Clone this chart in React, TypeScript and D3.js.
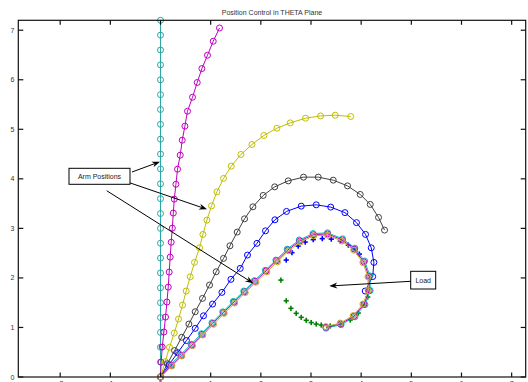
import * as d3 from 'd3';
import React from 'react';

type Pt = [number, number];

// arm snapshots in the theta plane (x, y), 25 nodes each
const armCyan: Pt[] = [
  [0, 0], [0, 0.3], [0, 0.6], [0, 0.9], [0, 1.2], [0, 1.5], [0, 1.8], [0, 2.1], [0, 2.4],
  [0, 2.7], [0, 3.0], [0, 3.3], [0, 3.6], [0, 3.9], [0, 4.2], [0, 4.5], [0, 4.8], [0, 5.1],
  [0, 5.4], [0, 5.7], [0, 6.0], [0, 6.3], [0, 6.6], [0, 6.9], [0, 7.2],
];
const armMagenta: Pt[] = [
  [0, 0], [0.014, 0.3], [0.034, 0.605], [0.068, 0.908], [0.1, 1.21], [0.128, 1.513],
  [0.154, 1.815], [0.173, 2.118], [0.193, 2.42], [0.213, 2.72], [0.235, 3.005], [0.255, 3.31],
  [0.275, 3.59], [0.307, 3.89], [0.339, 4.195], [0.393, 4.478], [0.433, 4.78], [0.486, 5.063],
  [0.538, 5.365], [0.638, 5.647], [0.732, 5.944], [0.825, 6.226], [0.937, 6.495],
  [1.051, 6.777], [1.176, 7.045],
];
const armYellow: Pt[] = [
  [0, 0], [0.094, 0.309], [0.179, 0.599], [0.273, 0.887], [0.359, 1.17], [0.439, 1.452],
  [0.512, 1.735], [0.592, 2.023], [0.678, 2.313], [0.778, 2.608], [0.845, 2.878],
  [0.925, 3.167], [1.017, 3.455], [1.124, 3.737], [1.256, 4.008], [1.41, 4.256],
  [1.603, 4.492], [1.822, 4.693], [2.061, 4.875], [2.32, 5.022], [2.586, 5.129],
  [2.891, 5.224], [3.19, 5.27], [3.483, 5.284], [3.792, 5.258],
];
const armGray: Pt[] = [
  [0, 0], [0.138, 0.267], [0.28, 0.534], [0.423, 0.802], [0.566, 1.069], [0.692, 1.317],
  [0.837, 1.587], [0.977, 1.856], [1.11, 2.124], [1.256, 2.394], [1.384, 2.648],
  [1.529, 2.925], [1.675, 3.193], [1.842, 3.435], [2.047, 3.665], [2.277, 3.838],
  [2.546, 3.959], [2.851, 4.034], [3.144, 4.034], [3.443, 3.973], [3.728, 3.858],
  [3.981, 3.685], [4.181, 3.483], [4.346, 3.221], [4.466, 2.965],
];
const armBlue: Pt[] = [
  [0, 0], [0.168, 0.246], [0.343, 0.49], [0.517, 0.736], [0.692, 0.982], [0.857, 1.236],
  [1.037, 1.472], [1.224, 1.708], [1.404, 1.971], [1.589, 2.192], [1.734, 2.461],
  [1.922, 2.697], [2.093, 2.951], [2.281, 3.173], [2.512, 3.342], [2.805, 3.449],
  [3.104, 3.475], [3.393, 3.429], [3.676, 3.318], [3.907, 3.116], [4.087, 2.878],
  [4.201, 2.608], [4.254, 2.313], [4.23, 2.027], [4.081, 1.735],
];
// final arm snapshots, nearly on top of each other
const finalCyan: Pt[] = [
  [0, 0], [0.2, 0.25], [0.4, 0.45], [0.61, 0.66], [0.815, 0.875], [1.025, 1.095],
  [1.24, 1.315], [1.45, 1.525], [1.66, 1.735], [1.87, 1.945], [2.09, 2.155], [2.3, 2.36],
  [2.525, 2.58], [2.765, 2.765], [3.04, 2.895], [3.33, 2.91], [3.63, 2.79], [3.875, 2.6],
  [4.07, 2.34], [4.175, 2.04], [4.18, 1.745], [4.075, 1.46], [3.875, 1.215], [3.6, 1.055],
  [3.3, 0.985],
];
const finalMagenta: Pt[] = [
  [0, 0], [0.215, 0.235], [0.415, 0.435], [0.625, 0.645], [0.83, 0.86], [1.04, 1.08],
  [1.255, 1.3], [1.465, 1.51], [1.675, 1.72], [1.885, 1.93], [2.105, 2.14], [2.315, 2.345],
  [2.54, 2.565], [2.775, 2.745], [3.048, 2.872], [3.33, 2.888], [3.622, 2.768],
  [3.865, 2.58], [4.052, 2.325], [4.155, 2.03], [4.16, 1.742], [4.055, 1.466],
  [3.858, 1.228], [3.59, 1.072], [3.297, 1.002],
];
const finalYellow: Pt[] = [
  [0, 0], [0.227, 0.222], [0.427, 0.424], [0.638, 0.631], [0.845, 0.847], [1.057, 1.063],
  [1.27, 1.285], [1.479, 1.493], [1.689, 1.704], [1.902, 1.912], [2.121, 2.122],
  [2.333, 2.326], [2.552, 2.547], [2.785, 2.723], [3.054, 2.85], [3.329, 2.864],
  [3.616, 2.743], [3.852, 2.561], [4.035, 2.309], [4.135, 2.023], [4.141, 1.741],
  [4.035, 1.472], [3.842, 1.24], [3.583, 1.089], [3.293, 1.019],
];
// load trajectory markers
const loadBlue: Pt[] = [
  [2.506, 2.36], [2.62, 2.511], [2.745, 2.642], [2.885, 2.723], [3.045, 2.773],
  [3.225, 2.793], [3.404, 2.783], [3.584, 2.743], [3.744, 2.662], [3.864, 2.582],
  [3.964, 2.481],
];
const loadGreen: Pt[] = [
  [2.4, 1.956], [2.506, 1.539], [2.6, 1.386], [2.705, 1.285], [2.805, 1.204], [2.905, 1.144],
  [3.004, 1.099], [3.104, 1.069], [3.204, 1.049], [3.383, 1.029], [3.583, 1.059],
  [3.782, 1.15], [3.942, 1.291], [4.061, 1.452], [4.131, 1.614],
];

const xTicks = [-2, -1, 0, 1, 2, 3, 4, 5, 6, 7];
const yTicks = [0, 1, 2, 3, 4, 5, 6, 7];

const W = 528;
const H = 382;
const x = d3.scaleLinear().domain([-2.835, 7.28]).range([18.3, 525.7]);
const y = d3.scaleLinear().domain([0, 7.2]).range([377, 20.3]);
const line = d3.line<Pt>().x(d => x(d[0])).y(d => y(d[1]));

const FONT = '"Liberation Sans", Arial, sans-serif';

const Arm = ({ pts, color, r = 3 }: { pts: Pt[]; color: string; r?: number }) => (
  <g>
    <path d={line(pts) ?? ''} fill="none" stroke={color} strokeWidth={1} />
    {pts.map((p, i) => (
      <circle key={i} cx={x(p[0])} cy={y(p[1])} r={r} fill="none" stroke={color} strokeWidth={1} />
    ))}
  </g>
);

const Plus = ({ pts, color }: { pts: Pt[]; color: string }) => (
  <g stroke={color} strokeWidth={1.6}>
    {pts.map((p, i) => (
      <g key={i}>
        <line x1={x(p[0]) - 2.6} x2={x(p[0]) + 2.6} y1={y(p[1])} y2={y(p[1])} />
        <line x1={x(p[0])} x2={x(p[0])} y1={y(p[1]) - 2.6} y2={y(p[1]) + 2.6} />
      </g>
    ))}
  </g>
);

// annotation arrow in pixel space
const Arrow = ({ x1, y1, x2, y2 }: { x1: number; y1: number; x2: number; y2: number }) => {
  const a = Math.atan2(y2 - y1, x2 - x1);
  const len = 8, half = 3;
  const bx = x2 - len * Math.cos(a), by = y2 - len * Math.sin(a);
  const mx = x2 - len * 0.7 * Math.cos(a), my = y2 - len * 0.7 * Math.sin(a);
  const px = -Math.sin(a) * half, py = Math.cos(a) * half;
  return (
    <g>
      <line x1={x1} y1={y1} x2={mx} y2={my} stroke="#000" strokeWidth={1} />
      <polygon points={`${x2},${y2} ${bx + px},${by + py} ${mx},${my} ${bx - px},${by - py}`} fill="#000" />
    </g>
  );
};

const App = () => {
  const [x0, x1] = x.range();
  const [y0, y1] = y.range();
  return (
    <svg width={W} height={H} style={{ position: 'absolute', left: 0, top: 0, background: '#fff' }}>
      <rect x={0} y={0} width={W} height={H} fill="#fff" />
      <text x={272} y={15} textAnchor="middle" fontFamily={FONT} fontSize={7} fill="#333">
        Position Control in THETA Plane
      </text>

      {/* data */}
      <Arm pts={armCyan} color="#2aa6a6" />
      <Arm pts={armMagenta} color="#bf00bf" />
      <Arm pts={armYellow} color="#bfbf00" />
      <Arm pts={armGray} color="#404040" />
      <Arm pts={armBlue} color="#0000ff" />
      <Plus pts={loadBlue} color="#0000ff" />
      <Plus pts={loadGreen} color="#008000" />
      <Arm pts={finalCyan} color="#00bfbf" />
      <Arm pts={finalMagenta} color="#bf00bf" />
      <Arm pts={finalYellow} color="#c8a830" />

      {/* axes frame */}
      <g stroke="#111" strokeWidth={1.2} fill="none">
        <rect x={x0} y={y1} width={x1 - x0} height={y0 - y1} />
        {xTicks.map(t => (
          <g key={t}>
            <line x1={x(t)} x2={x(t)} y1={y0} y2={y0 - 4.5} />
            <line x1={x(t)} x2={x(t)} y1={y1} y2={y1 + 4.5} />
          </g>
        ))}
        {yTicks.map(t => (
          <g key={t}>
            <line x1={x0} x2={x0 + 5} y1={y(t)} y2={y(t)} />
            <line x1={x1} x2={x1 - 5} y1={y(t)} y2={y(t)} />
          </g>
        ))}
      </g>
      <g fontFamily={FONT} fontSize={7} fill="#333">
        {yTicks.map(t => (
          <text key={t} x={x0 - 4} y={y(t) + 2.5} textAnchor="end">{t}</text>
        ))}
        {xTicks.map(t => (
          <text key={t} x={x(t)} y={y0 + 9} textAnchor="middle">{t}</text>
        ))}
      </g>

      {/* annotations */}
      <Arrow x1={132} y1={172} x2={160} y2={161.7} />
      <Arrow x1={128.3} y1={182.3} x2={207} y2={209.3} />
      <Arrow x1={106.7} y1={190.7} x2={253.3} y2={283.3} />
      <rect x={69} y={168.3} width={61} height={16} fill="#fff" stroke="#000" strokeWidth={1} />
      <text x={99.5} y={178.8} textAnchor="middle" fontFamily={FONT} fontSize={7} fill="#222">Arm Positions</text>

      <Arrow x1={410.7} y1={281.3} x2={329.3} y2={286} />
      <rect x={410.7} y={271.3} width={25} height={17.7} fill="#fff" stroke="#000" strokeWidth={1} />
      <text x={423.2} y={282.5} textAnchor="middle" fontFamily={FONT} fontSize={7} fill="#222">Load</text>
    </svg>
  );
};

export default App;
